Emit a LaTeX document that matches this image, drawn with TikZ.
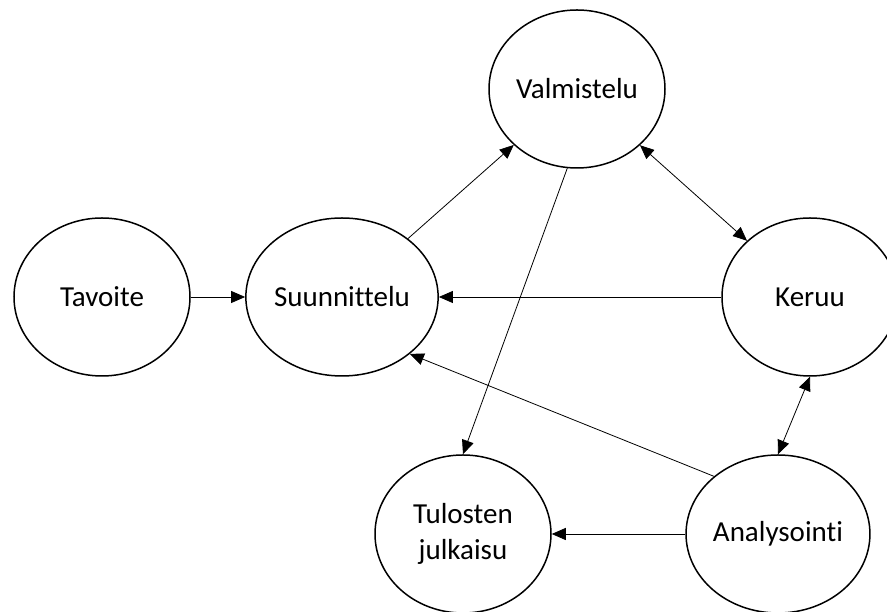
\documentclass[tikz,border=0pt]{standalone}
\usepackage{fontspec}
\setmainfont{Carlito}[RawFeature={-liga;-clig;-calt;-dlig}]
\usetikzlibrary{shapes.geometric,arrows.meta}
\tikzset{
  stage/.style={ellipse, draw=black, line width=1.5pt, minimum width=176pt, minimum height=158pt, inner sep=0pt, align=center, font=\fontsize{29}{36}\selectfont},
  link/.style={line width=0.8pt, -{Triangle[length=14pt,width=12pt]}},
  dlink/.style={line width=0.8pt, {Triangle[length=14pt,width=12pt]}-{Triangle[length=14pt,width=12pt]}}
}
\begin{document}
\begin{tikzpicture}[x=1pt,y=1pt]
\useasboundingbox[fill=white] (0,0) rectangle (887,612);
\begin{scope}
\clip (0,0) rectangle (887,612);
\node[stage] (tav) at (102,315) {Tavoite};
\node[stage] (suun) at (342,315) {Suunnittelu};
\node[stage] (valm) at (577,523) {Valmistelu};
\node[stage] (keruu) at (810,315) {Keruu};
\node[stage] (tul) at (463,78) {Tulosten\\julkaisu};
\node[stage] (ana) at (778,78) {Analysointi};
\end{scope}
\draw[link] (tav.east) -- (suun.west);
\draw[link] (keruu.west) -- (suun.east);
\draw[link] (suun) -- (valm);
\draw[link] (valm.263) -- (tul.north);
\draw[dlink] (valm) -- (keruu);
\draw[dlink] (keruu.south) -- (ana.north);
\draw[link] (ana.138) -- (suun.320);
\draw[link] (ana.west) -- (tul.east);
\end{tikzpicture}
\end{document}
